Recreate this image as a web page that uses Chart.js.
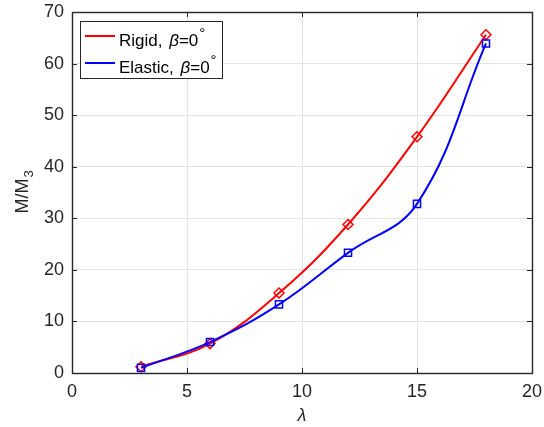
<!DOCTYPE html>
<html><head><meta charset="utf-8">
<script src="https://cdn.jsdelivr.net/npm/chart.js"></script>
<style>html,body{margin:0;padding:0;background:#fff}#wrap{width:544px;height:427px;position:relative}</style>
</head><body><div id="wrap"><canvas id="c"></canvas></div>
<script>
// data
const LAMBDA = [3, 6, 9, 12, 15, 18];
const RIGID = [1.2, 5.7, 15.5, 28.8, 45.8, 65.6];
const ELASTIC = [1.0, 6.0, 13.3, 23.3, 32.8, 63.9];
const X_TICKS = [0, 5, 10, 15, 20];
const Y_TICKS = [0, 10, 20, 30, 40, 50, 60, 70];
const LEGEND = ['Rigid, ', 'Elastic, '];

const FONT = '"Liberation Sans", Arial, Helvetica, sans-serif';
const INK = '#262626';

function pts(ys){ return LAMBDA.map((x, i) => ({ x: x, y: ys[i] })); }

// drop the automatic label overflow padding so the plot box sits where it should
function noPad(s){ s.paddingLeft = s.paddingRight = s.paddingTop = s.paddingBottom = 0; }

// box, inward ticks, axis titles, legend (MATLAB look)
const matlab = {
  id: 'matlab',
  afterDraw(chart){
    const ctx = chart.ctx, a = chart.chartArea;
    const xs = chart.scales.x, ys = chart.scales.y;
    ctx.save();
    ctx.strokeStyle = INK; ctx.lineWidth = 1;
    ctx.beginPath();
    X_TICKS.forEach(v => {
      const px = Math.round(xs.getPixelForValue(v)) + 0.5;
      ctx.moveTo(px, a.bottom); ctx.lineTo(px, a.bottom - 5);
      ctx.moveTo(px, a.top); ctx.lineTo(px, a.top + 5);
    });
    Y_TICKS.forEach(v => {
      const py = Math.round(ys.getPixelForValue(v)) + 0.5;
      ctx.moveTo(a.left, py); ctx.lineTo(a.left + 5, py);
      ctx.moveTo(a.right, py); ctx.lineTo(a.right - 5, py);
    });
    ctx.stroke();
    ctx.lineWidth = 1.4;
    ctx.strokeRect(Math.round(a.left) + 0.5, Math.round(a.top) + 0.5,
      Math.round(a.right - a.left), Math.round(a.bottom - a.top));

    // x title
    ctx.fillStyle = INK;
    ctx.textAlign = 'center'; ctx.textBaseline = 'alphabetic';
    ctx.font = 'italic 18px ' + FONT;
    ctx.fillText('\u03bb', (a.left + a.right) / 2, 421);

    // y title M/M_3
    ctx.save();
    ctx.translate(28, (a.top + a.bottom) / 2);
    ctx.rotate(-Math.PI / 2);
    ctx.font = '18px ' + FONT;
    const w1 = ctx.measureText('M/M').width;
    ctx.font = '13px ' + FONT;
    const w2 = ctx.measureText('3').width;
    ctx.textAlign = 'left';
    ctx.font = '18px ' + FONT;
    ctx.fillText('M/M', -(w1 + w2) / 2, 0);
    ctx.font = '13px ' + FONT;
    ctx.fillText('3', -(w1 + w2) / 2 + w1 + 1, 5);
    ctx.restore();

    // legend
    const lx = 80, ly = 21, lw = 142, lh = 57;
    ctx.fillStyle = '#fff';
    ctx.fillRect(lx, ly, lw, lh);
    ctx.strokeStyle = INK; ctx.lineWidth = 1;
    ctx.strokeRect(lx + 0.5, ly + 0.5, lw, lh);
    const colors = ['#ff0000', '#0000ff'];
    LEGEND.forEach((name, i) => {
      const y = 36 + i * 27;
      ctx.strokeStyle = colors[i]; ctx.lineWidth = 2;
      ctx.beginPath(); ctx.moveTo(85, y); ctx.lineTo(115, y); ctx.stroke();
      ctx.fillStyle = '#000'; ctx.textAlign = 'left'; ctx.textBaseline = 'alphabetic';
      const base = y + 10;
      let x = 119;
      ctx.font = '17px ' + FONT; ctx.fillText(name, x, base); x += ctx.measureText(name).width + 2;
      ctx.font = 'italic 17px ' + FONT; ctx.fillText('\u03b2', x, base); x += ctx.measureText('\u03b2').width;
      ctx.font = '17px ' + FONT; ctx.fillText('=0', x, base); x += ctx.measureText('=0').width + 1;
      ctx.font = '15px ' + FONT; ctx.fillText('\u00b0', x, base - 8);
    });
    ctx.restore();
  }
};

new Chart(document.getElementById('c'), {
  type: 'line',
  data: {
    datasets: [
      { label: 'Rigid', data: pts(RIGID), borderColor: '#ff0000', borderWidth: 2,
        pointStyle: 'rectRot', pointRadius: 5, pointBorderColor: '#ff0000', pointBorderWidth: 1.5,
        pointBackgroundColor: 'rgba(0,0,0,0)', tension: 0.4, order: 2 },
      { label: 'Elastic', data: pts(ELASTIC), borderColor: '#0000ff', borderWidth: 2,
        pointStyle: 'rect', pointRadius: 5, pointBorderColor: '#0000ff', pointBorderWidth: 1.5,
        pointBackgroundColor: 'rgba(0,0,0,0)', tension: 0.4, order: 1 }
    ]
  },
  options: {
    responsive: true, maintainAspectRatio: false, animation: false,
    layout: { padding: { top: 12, right: 12, left: 0, bottom: 0 } },
    plugins: { legend: { display: false }, tooltip: { enabled: false } },
    scales: {
      x: {
        type: 'linear', min: 0, max: 20,
        afterBuildTicks: s => { s.ticks = X_TICKS.map(v => ({ value: v })); },
        afterFit: s => { s.height = 54; noPad(s); },
        grid: { color: '#e3e3e3', drawTicks: false },
        border: { display: false },
        ticks: { color: INK, padding: 8, maxRotation: 0, font: { family: FONT, size: 18 } }
      },
      y: {
        type: 'linear', min: 0, max: 70,
        afterBuildTicks: s => { s.ticks = Y_TICKS.map(v => ({ value: v })); },
        afterFit: s => { s.width = 72; noPad(s); },
        grid: { color: '#e3e3e3', drawTicks: false },
        border: { display: false },
        ticks: { color: INK, padding: 8, font: { family: FONT, size: 18 } }
      }
    }
  },
  plugins: [matlab]
});
</script>
</body></html>
